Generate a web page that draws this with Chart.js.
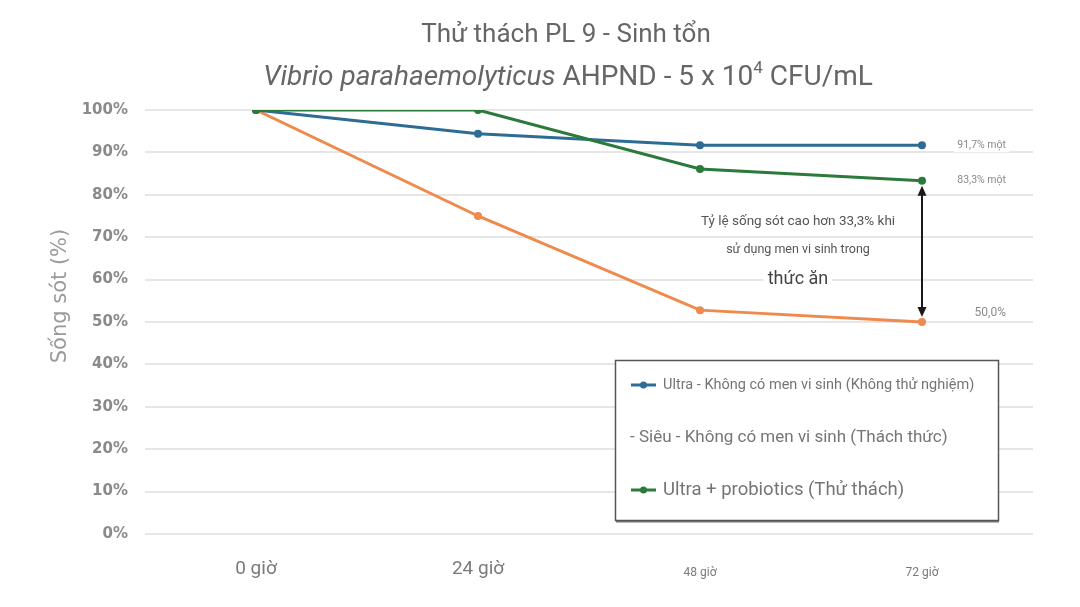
<!DOCTYPE html>
<html>
<head>
<meta charset="utf-8">
<script src="https://cdn.jsdelivr.net/npm/chart.js@4.4.1/dist/chart.umd.min.js"></script>
<style>
  html, body { margin: 0; padding: 0; background: #fff; }
  #chart { display: block; }
</style>
</head>
<body>
<canvas id="chart" width="1080" height="607"></canvas>
<script>
// data
const categories = ["0 giờ", "24 giờ", "48 giờ", "72 giờ"];
const ultraNoProbiotic = [100, 94.4, 91.7, 91.7];
const sieuNoProbiotic = [100, 75, 52.8, 50];
const ultraProbiotic = [100, 100, 86.1, 83.3];
const yTicks = [0, 10, 20, 30, 40, 50, 60, 70, 80, 90, 100];
const endLabels = ["91,7% một", "50,0%", "83,3% một"];
const seriesLabels = [
  "Ultra - Không có men vi sinh (Không thử nghiệm)",
  "Siêu - Không có men vi sinh (Thách thức)",
  "Ultra + probiotics (Thử thách)",
];
const noteLines = ["Tỷ lệ sống sót cao hơn 33,3% khi", "sử dụng men vi sinh trong", "thức ăn"];

const BLUE = "#2e6b95";
const ORANGE = "#ef8a4c";
const GREEN = "#2b7a3b";
const FONT = "Roboto, 'Noto Sans', sans-serif";
const WIDE = "'DejaVu Sans', sans-serif";

// title with italic species name and superscript, plus the y axis title
const titlePlugin = {
  id: "titlePlugin",
  afterDraw(chart) {
    const c = chart.ctx;
    c.save();
    c.fillStyle = "#666";
    c.textBaseline = "middle";
    c.textAlign = "center";
    c.font = `26px ${FONT}`;
    c.fillText("Thử thách PL 9 - Sinh tổn", 566, 35);

    const parts = [
      { t: "Vibrio parahaemolyticus", f: `italic 28px ${FONT}`, dy: 0 },
      { t: " AHPND - 5 x 10", f: `28px ${FONT}`, dy: 0 },
      { t: "4", f: `17px ${FONT}`, dy: -9 },
      { t: " CFU/mL", f: `28px ${FONT}`, dy: 0 },
    ];
    let total = 0;
    parts.forEach((p) => {
      c.font = p.f;
      p.w = c.measureText(p.t).width;
      total += p.w;
    });
    let x = 568 - total / 2;
    c.textAlign = "left";
    parts.forEach((p) => {
      c.font = p.f;
      c.fillText(p.t, x, 78 + p.dy);
      x += p.w;
    });

    // y axis title
    c.translate(61, 296);
    c.rotate(-Math.PI / 2);
    c.textAlign = "center";
    c.fillStyle = "#9a9a9a";
    c.font = `21px ${WIDE}`;
    c.fillText("Sống sót (%)", 0, 0);
    c.restore();
  },
};

// end labels, arrow and note text
const notesPlugin = {
  id: "notesPlugin",
  afterDatasetsDraw(chart) {
    const c = chart.ctx;
    const xs = chart.scales.x;
    const ys = chart.scales.y;
    const last = categories.length - 1;
    const xLast = xs.getPixelForValue(last);
    c.save();

    // value labels at the right of the last points
    const lastValues = [ultraNoProbiotic[last], sieuNoProbiotic[last], ultraProbiotic[last]];
    const offsets = [0, -9, 0];
    c.textBaseline = "middle";
    c.textAlign = "right";
    lastValues.forEach((v, i) => {
      const y = ys.getPixelForValue(v) + offsets[i];
      c.font = `${i === 1 ? 12 : 10.5}px ${FONT}`;
      const w = c.measureText(endLabels[i]).width;
      c.fillStyle = "#fff";
      c.fillRect(1006 - w - 3, y - 7, w + 6, 14);
      c.fillStyle = "#8a8a8a";
      c.fillText(endLabels[i], 1006, y);
    });

    // double-headed arrow between green and orange at 72h
    const yTop = ys.getPixelForValue(ultraProbiotic[last]) + 5;
    const yBot = ys.getPixelForValue(sieuNoProbiotic[last]) - 5;
    c.strokeStyle = "#1a1a1a";
    c.fillStyle = "#1a1a1a";
    c.lineWidth = 2;
    c.beginPath();
    c.moveTo(xLast, yTop + 8);
    c.lineTo(xLast, yBot - 8);
    c.stroke();
    c.beginPath();
    c.moveTo(xLast, yTop);
    c.lineTo(xLast - 4.5, yTop + 10);
    c.lineTo(xLast + 4.5, yTop + 10);
    c.closePath();
    c.fill();
    c.beginPath();
    c.moveTo(xLast, yBot);
    c.lineTo(xLast - 4.5, yBot - 10);
    c.lineTo(xLast + 4.5, yBot - 10);
    c.closePath();
    c.fill();

    // note text block
    const noteX = 798;
    const noteY = [222, 250, 279];
    const noteSize = [13.5, 12.5, 18];
    c.textAlign = "center";
    noteLines.forEach((t, i) => {
      c.font = `${noteSize[i]}px ${FONT}`;
      const w = c.measureText(t).width;
      c.fillStyle = "#fff";
      c.fillRect(noteX - w / 2 - 4, noteY[i] - noteSize[i] * 0.7, w + 8, noteSize[i] * 1.4);
      c.fillStyle = i === 2 ? "#444" : "#555";
      c.fillText(t, noteX, noteY[i]);
    });
    c.restore();
  },
};

// boxed legend in the lower right
const legendPlugin = {
  id: "legendPlugin",
  afterDraw(chart) {
    const c = chart.ctx;
    const box = { x: 615, y: 360, w: 383, h: 160 };
    c.save();
    c.fillStyle = "#777";
    c.fillRect(box.x + 1, box.y + box.h, box.w, 2.5);
    c.fillStyle = "#fff";
    c.fillRect(box.x, box.y, box.w, box.h);
    c.strokeStyle = "#555";
    c.lineWidth = 1.5;
    c.strokeRect(box.x + 0.5, box.y + 0.5, box.w, box.h);

    const items = [
      { color: BLUE, text: seriesLabels[0], y: 385, size: 14.5, marker: true },
      { color: null, text: "- " + seriesLabels[1], y: 438, size: 17, marker: false },
      { color: GREEN, text: seriesLabels[2], y: 490, size: 18.5, marker: true },
    ];
    c.textBaseline = "middle";
    c.textAlign = "left";
    items.forEach((it) => {
      let tx = 630;
      if (it.marker) {
        c.strokeStyle = it.color;
        c.fillStyle = it.color;
        c.lineWidth = 3;
        c.beginPath();
        c.moveTo(631, it.y);
        c.lineTo(656, it.y);
        c.stroke();
        c.beginPath();
        c.arc(643.5, it.y, 3.5, 0, Math.PI * 2);
        c.fill();
        tx = 663;
      }
      c.fillStyle = "#757575";
      c.font = `${it.size}px ${FONT}`;
      c.fillText(it.text, tx, it.y);
    });
    c.restore();
  },
};

const lineStyle = (color) => ({
  borderColor: color,
  backgroundColor: color,
  borderWidth: 3,
  pointRadius: 4,
  pointHoverRadius: 4,
  pointBorderWidth: 0,
  tension: 0,
});

new Chart(document.getElementById("chart"), {
  type: "line",
  data: {
    labels: categories,
    datasets: [
      { label: seriesLabels[0], data: ultraNoProbiotic, order: 1, ...lineStyle(BLUE) },
      { label: seriesLabels[1], data: sieuNoProbiotic, order: 2, ...lineStyle(ORANGE) },
      { label: seriesLabels[2], data: ultraProbiotic, order: 0, ...lineStyle(GREEN) },
    ],
  },
  options: {
    responsive: false,
    animation: false,
    devicePixelRatio: 1,
    layout: { padding: { top: 110, right: 47, left: 0, bottom: 0 } },
    plugins: {
      legend: { display: false },
      tooltip: { enabled: false },
    },
    scales: {
      x: {
        offset: true,
        grid: { display: false, drawTicks: false },
        border: { display: false },
        ticks: {
          padding: 24,
          color: "#7a7a7a",
          font: (ctx) =>
            ctx.index < 2
              ? { family: FONT, size: 19, lineHeight: 1.2 }
              : { family: FONT, size: 12, lineHeight: 2.57 },
        },
        afterFit: (scale) => {
          scale.height = 73;
        },
      },
      y: {
        min: 0,
        max: 100,
        afterBuildTicks: (scale) => {
          scale.ticks = yTicks.map((v) => ({ value: v }));
        },
        grid: { color: "#e6e6e6", lineWidth: 2, drawTicks: false },
        border: { display: false },
        ticks: {
          padding: 17,
          color: "#8a8a8a",
          font: { family: WIDE, size: 15, weight: "bold" },
          callback: (v) => v + "%",
        },
        afterFit: (scale) => {
          scale.width = 145;
        },
      },
    },
  },
  plugins: [titlePlugin, notesPlugin, legendPlugin],
});
</script>
</body>
</html>
